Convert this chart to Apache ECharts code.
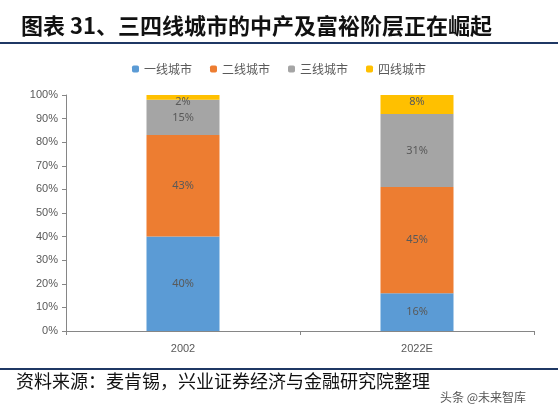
<!DOCTYPE html>
<html>
<head>
<meta charset="UTF-8">
<script src="https://cdn.jsdelivr.net/npm/echarts@6/dist/echarts.min.js"></script>
<style>html,body{margin:0;height:100%;background:#fff;}</style>
</head>
<body>
<div id="chart" style="width:558px;height:411px;"></div>
<script>
var categories = ['2002', '2022E'];
var seriesNames = ['一线城市', '二线城市', '三线城市', '四线城市'];
var tier1 = [40, 16];
var tier2 = [43, 45];
var tier3 = [15, 31];
var tier4 = [2, 8];
var colors = ['#5b9bd5', '#ed7d31', '#a5a5a5', '#ffc000'];

var chart = echarts.init(document.getElementById('chart'));
var values = [tier1, tier2, tier3, tier4];
var series = values.map(function (v, i) {
    return {
        name: seriesNames[i],
        type: 'bar',
        stack: 'all',
        barWidth: 73,
        data: v,
        itemStyle: { color: colors[i] },
        label: {
            show: true,
            position: i === 3 ? 'insideTop' : 'inside',
            offset: i === 3 ? [0, -4] : [0, 0],
            formatter: '{c}%',
            color: '#595959',
            fontSize: 11,
            fontFamily: 'Noto Sans'
        }
    };
});

chart.setOption({
    animation: false,
    title: {
        text: '图表 31、三四线城市的中产及富裕阶层正在崛起',
        left: 16, top: 10,
        textStyle: { fontSize: 22, fontWeight: 'bold', color: '#111', fontFamily: 'Noto Sans CJK SC' }
    },
    graphic: [
        { type: 'rect', shape: { x: 0, y: 42, width: 558, height: 2 }, style: { fill: '#1f3864' } },
        { type: 'rect', shape: { x: 0, y: 368, width: 558, height: 2 }, style: { fill: '#1f3864' } },
        { type: 'text', left: 16, top: 372, style: { text: '资料来源：麦肯锡，兴业证券经济与金融研究院整理', fontSize: 18, fill: '#111', fontFamily: 'Noto Sans CJK SC' } },
        { type: 'text', left: 440, top: 391, style: { text: '头条 @未来智库', fontSize: 12, fill: '#555', fontFamily: 'Noto Sans CJK SC' } }
    ],
    legend: {
        top: 58, left: 'center', itemWidth: 7, itemHeight: 7, itemGap: 18,
        textStyle: { fontSize: 12, color: '#595959', fontFamily: 'Noto Sans CJK SC' },
        data: seriesNames
    },
    grid: { left: 66, right: 24, top: 95, bottom: 80 },
    xAxis: {
        type: 'category', data: categories,
        axisLine: { lineStyle: { color: '#868686' } },
        axisTick: { show: true, length: 4, lineStyle: { color: '#868686' } },
        axisLabel: { color: '#595959', fontSize: 11, margin: 12 }
    },
    yAxis: {
        type: 'value', min: 0, max: 100, interval: 10,
        axisLine: { show: true, lineStyle: { color: '#868686' } },
        axisTick: { show: true, length: 4, lineStyle: { color: '#868686' } },
        splitLine: { show: false },
        axisLabel: { formatter: '{value}%', color: '#595959', fontSize: 11 }
    },
    series: series
});
</script>
</body>
</html>
